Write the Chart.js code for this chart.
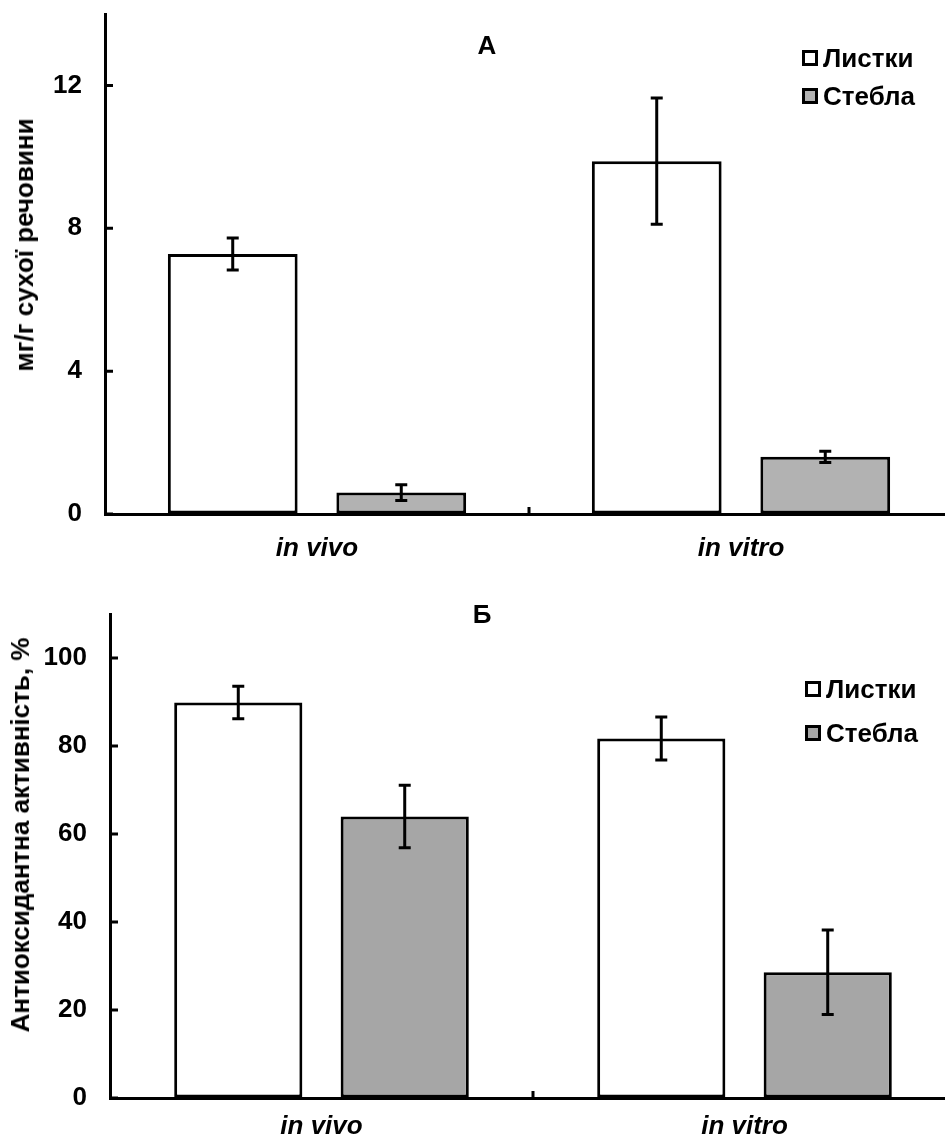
<!DOCTYPE html>
<html>
<head>
<meta charset="utf-8">
<script src="https://cdn.jsdelivr.net/npm/chart.js@4.4.1/dist/chart.umd.min.js"></script>
<style>
  html, body { margin: 0; padding: 0; background: #fff; }
  #wrap { position: relative; width: 945px; height: 1140px; overflow: hidden; font-family: "Liberation Sans", Arial, sans-serif; font-weight: bold; color: #000; }
  .panel { position: absolute; left: 0; width: 960px; height: 570px; }
  .title { position: absolute; font-size: 26px; line-height: 30px; transform: translate(-50%, -50%); }
  .ytitle { position: absolute; font-size: 26px; line-height: 30px; white-space: nowrap; transform: translate(-50%, -50%) rotate(-90deg); }
  .leg { position: absolute; display: flex; align-items: center; font-size: 26px; line-height: 30px; height: 30px; }
  .leg .box { width: 10px; height: 10px; border: 3px solid #000; margin-right: 5px; }
</style>
</head>
<body>
<div id="wrap">
  <div class="panel" style="top:0"><canvas id="chartA" width="960" height="570"></canvas></div>
  <div class="panel" style="top:570px"><canvas id="chartB" width="960" height="570"></canvas></div>

  <div class="title" style="left:487px; top:45px">А</div>
  <div class="title" style="left:482px; top:614px">Б</div>

  <div class="ytitle" style="left:24px; top:245px">мг/г сухої речовини</div>
  <div class="ytitle" style="left:20px; top:835px">Антиоксидантна активність, %</div>

  <div id="legA"></div>
  <div id="legB"></div>
</div>

<script>
const categories = ['in vivo', 'in vitro'];
const seriesNames = ['Листки', 'Стебла'];

// A: content, mg/g dry matter
const contentLeaves = [7.28, 9.88];
const contentLeavesErr = [0.45, 1.77];
const contentStems = [0.6, 1.6];
const contentStemsErr = [0.22, 0.16];
const contentAxis = { max: 14, step: 4 };

// Б: antioxidant activity, %
const activityLeaves = [89.9, 81.7];
const activityLeavesErr = [3.7, 4.9];
const activityStems = [64.0, 28.6];
const activityStemsErr = [7.1, 9.6];
const activityAxis = { max: 110, step: 20 };

const FONT = '"Liberation Sans", Arial, sans-serif';

// error bars drawn from data through the y scale
const errorBars = {
    id: 'errorBars',
    afterDatasetsDraw(chart) {
        const ctx = chart.ctx;
        const y = chart.scales.y;
        chart.data.datasets.forEach((ds, i) => {
            const meta = chart.getDatasetMeta(i);
            meta.data.forEach((bar, j) => {
                const v = ds.data[j];
                const e = ds.errors[j];
                const top = y.getPixelForValue(v + e);
                const bot = y.getPixelForValue(v - e);
                ctx.save();
                ctx.strokeStyle = '#000';
                ctx.lineWidth = 3;
                ctx.beginPath();
                ctx.moveTo(bar.x, top); ctx.lineTo(bar.x, bot);
                ctx.moveTo(bar.x - 6, top); ctx.lineTo(bar.x + 6, top);
                ctx.moveTo(bar.x - 6, bot); ctx.lineTo(bar.x + 6, bot);
                ctx.stroke();
                ctx.restore();
            });
        });
    }
};

// tick marks pointing into the plot
const innerTicks = {
    id: 'innerTicks',
    afterDraw(chart) {
        const ctx = chart.ctx;
        const area = chart.chartArea;
        const y = chart.scales.y;
        const x = chart.scales.x;
        ctx.save();
        ctx.strokeStyle = '#000';
        ctx.lineWidth = 3;
        ctx.beginPath();
        y.ticks.forEach(t => {
            const py = y.getPixelForValue(t.value);
            ctx.moveTo(area.left, py);
            ctx.lineTo(area.left + 8, py);
        });
        const mid = (x.getPixelForValue(0) + x.getPixelForValue(1)) / 2;
        ctx.moveTo(mid, area.bottom);
        ctx.lineTo(mid, area.bottom - 7);
        ctx.stroke();
        ctx.restore();
    }
};

function makeChart(id, leaves, leavesErr, stems, stemsErr, stemColor, axis, geom) {
    const ctx = document.getElementById(id).getContext('2d');
    return new Chart(ctx, {
        type: 'bar',
        data: {
            labels: categories,
            datasets: [
                {
                    label: seriesNames[0],
                    data: leaves,
                    errors: leavesErr,
                    backgroundColor: '#ffffff',
                    borderColor: '#000',
                    borderWidth: 3,
                    borderSkipped: false,
                    barPercentage: 0.77,
                    categoryPercentage: geom.cat
                },
                {
                    label: seriesNames[1],
                    data: stems,
                    errors: stemsErr,
                    backgroundColor: stemColor,
                    borderColor: '#000',
                    borderWidth: 3,
                    borderSkipped: false,
                    barPercentage: 0.77,
                    categoryPercentage: geom.cat
                }
            ]
        },
        options: {
            responsive: false,
            animation: false,
            devicePixelRatio: 1,
            layout: { padding: { top: geom.top, right: geom.right, left: 0, bottom: 0 } },
            plugins: {
                legend: { display: false },
                tooltip: { enabled: false }
            },
            scales: {
                x: {
                    offset: true,
                    grid: { display: true, drawOnChartArea: false, drawTicks: false },
                    border: { color: '#000', width: 3 },
                    ticks: {
                        color: '#000',
                        padding: geom.xpad,
                        font: { family: FONT, size: 26, weight: 'bold', style: 'italic' }
                    },
                    afterFit: (s) => { s.height = geom.xh; s.paddingLeft = 0; s.paddingRight = 0; }
                },
                y: {
                    min: 0,
                    max: axis.max,
                    grid: { display: true, drawOnChartArea: false, drawTicks: false },
                    border: { color: '#000', width: 3 },
                    ticks: {
                        stepSize: axis.step,
                        includeBounds: false,
                        color: '#000',
                        padding: 23,
                        font: { family: FONT, size: 26, weight: 'bold' }
                    },
                    afterFit: (s) => { s.width = geom.yw; s.paddingTop = 0; s.paddingBottom = 0; }
                }
            }
        },
        plugins: [errorBars, innerTicks]
    });
}

function makeLegend(elId, colors, left, tops) {
    const el = document.getElementById(elId);
    seriesNames.forEach((name, i) => {
        const item = document.createElement('div');
        item.className = 'leg';
        item.style.left = left + 'px';
        item.style.top = (tops[i] - 15) + 'px';
        item.innerHTML = '<span class="box" style="background:' + colors[i] + '"></span>' + name;
        el.appendChild(item);
    });
}

const stemA = '#b2b2b2';
const stemB = '#a6a6a6';

makeChart('chartA', contentLeaves, contentLeavesErr, contentStems, contentStemsErr, stemA, contentAxis,
    { top: 14, right: 7, yw: 105, xh: 56, xpad: 19, cat: 0.795 });
makeChart('chartB', activityLeaves, activityLeavesErr, activityStems, activityStemsErr, stemB, activityAxis,
    { top: 44, right: 4, yw: 110, xh: 42, xpad: 13, cat: 0.787 });

makeLegend('legA', ['#ffffff', stemA], 802, [58, 96]);
makeLegend('legB', ['#ffffff', stemB], 805, [689, 733]);
</script>
</body>
</html>
